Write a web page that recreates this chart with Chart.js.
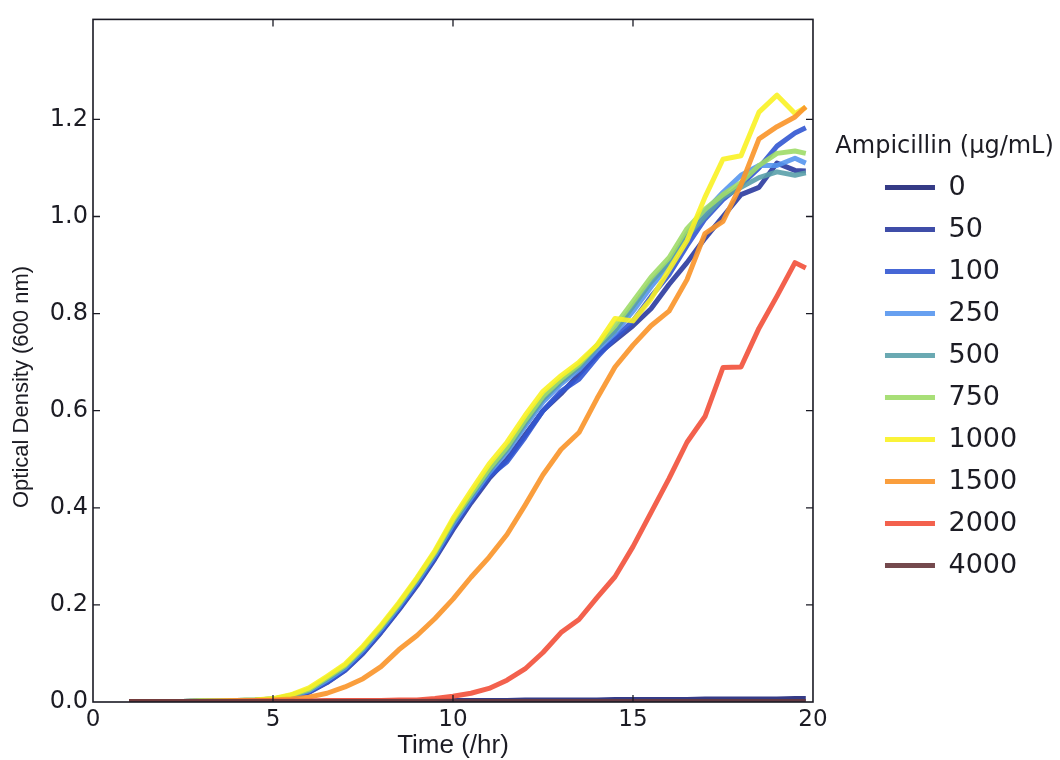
<!DOCTYPE html>
<html>
<head>
<meta charset="utf-8">
<script src="https://cdn.jsdelivr.net/npm/chart.js@4.4.1/dist/chart.umd.min.js"></script>
<style>
html,body{margin:0;padding:0;background:#ffffff;}
#wrap{width:1060px;height:760px;}
</style>
</head>
<body>
<div id="wrap"><canvas id="c" width="1060" height="760" style="width:1060px;height:760px"></canvas></div>
<script>
// ---- data ----
const timeHr = [1,1.5,2,2.5,3,3.5,4,4.5,5,5.5,6,6.5,7,7.5,8,8.5,9,9.5,10,10.5,11,11.5,12,12.5,13,13.5,14,14.5,15,15.5,16,16.5,17,17.5,18,18.5,19,19.5,19.8];
const concentrations = ['0','50','100','250','500','750','1000','1500','2000','4000'];
const legendTitle = 'Ampicillin (μg/mL)';
const od0 = [0.001,0.001,0.001,0.001,0.001,0.001,0.001,0.001,
  0.001,0.001,0.001,0.002,0.002,0.002,0.002,0.002,0.002,0.003,
  0.003,0.003,0.003,0.003,0.004,0.004,0.004,0.004,0.004,0.005,
  0.005,0.005,0.005,0.005,0.006,0.006,0.006,0.006,0.006,0.007,0.007];
const od50 = [0.001,0.001,0.001,0.001,0.002,0.002,0.002,0.003,
  0.005,0.011,0.020,0.040,0.065,0.100,0.143,0.190,0.240,0.295,
  0.355,0.410,0.460,0.500,0.550,0.600,0.635,0.675,0.715,0.745,
  0.775,0.810,0.860,0.905,0.955,1.000,1.045,1.060,1.110,1.095,1.094];
const od100 = [0.001,0.001,0.001,0.001,0.002,0.002,0.002,0.003,
  0.005,0.011,0.021,0.041,0.066,0.102,0.145,0.192,0.243,0.298,
  0.360,0.415,0.465,0.495,0.545,0.600,0.640,0.665,0.710,0.750,
  0.785,0.835,0.880,0.940,0.995,1.035,1.065,1.100,1.145,1.172,1.183];
const od250 = [0.001,0.001,0.001,0.001,0.002,0.002,0.003,0.004,
  0.006,0.012,0.023,0.045,0.070,0.107,0.150,0.197,0.248,0.303,
  0.366,0.420,0.472,0.515,0.568,0.618,0.655,0.685,0.725,0.760,
  0.805,0.855,0.900,0.965,1.010,1.050,1.085,1.105,1.105,1.120,1.110];
const od500 = [0.001,0.001,0.001,0.001,0.002,0.002,0.003,0.004,
  0.006,0.013,0.025,0.048,0.073,0.110,0.153,0.200,0.251,0.306,
  0.370,0.424,0.476,0.520,0.574,0.624,0.660,0.690,0.730,0.765,
  0.815,0.865,0.905,0.960,1.000,1.040,1.060,1.080,1.092,1.085,1.090];
const od750 = [0.001,0.001,0.001,0.001,0.002,0.002,0.003,0.004,
  0.006,0.014,0.026,0.050,0.075,0.112,0.155,0.202,0.254,0.309,
  0.374,0.428,0.480,0.525,0.580,0.630,0.665,0.695,0.735,0.775,
  0.825,0.875,0.915,0.975,1.015,1.045,1.070,1.105,1.130,1.135,1.130];
const od1000 = [0.001,0.001,0.001,0.001,0.002,0.002,0.003,0.004,
  0.007,0.015,0.029,0.053,0.078,0.115,0.158,0.205,0.256,0.312,
  0.378,0.435,0.490,0.535,0.590,0.640,0.672,0.700,0.735,0.790,
  0.785,0.830,0.890,0.950,1.040,1.118,1.125,1.215,1.250,1.212,1.225];
const od1500 = [0.001,0.001,0.001,0.001,0.001,0.002,0.002,0.003,
  0.004,0.006,0.010,0.018,0.031,0.048,0.073,0.108,0.137,0.172,
  0.212,0.257,0.298,0.345,0.405,0.468,0.520,0.555,0.625,0.690,
  0.735,0.775,0.805,0.870,0.965,0.990,1.065,1.160,1.185,1.205,1.226];
const od2000 = [0.001,0.001,0.001,0.001,0.001,0.001,0.002,0.002,
  0.002,0.002,0.002,0.003,0.003,0.003,0.003,0.004,0.004,0.007,
  0.012,0.018,0.028,0.045,0.068,0.102,0.143,0.170,0.215,0.258,
  0.320,0.390,0.460,0.535,0.588,0.689,0.690,0.770,0.836,0.905,0.894];
const od4000 = [0.001,0.001,0.001,0.001,0.001,0.001,0.001,0.001,
  0.001,0.001,0.001,0.001,0.001,0.001,0.001,0.001,0.001,0.001,
  0.001,0.001,0.001,0.001,0.001,0.001,0.001,0.001,0.001,0.001,
  0.001,0.001,0.001,0.001,0.001,0.001,0.001,0.001,0.001,0.001,0.001];
const xTicks = [0,5,10,15,20];
const yTickLabels = ['0.0','0.2','0.4','0.6','0.8','1.0','1.2'];

const seriesValues = [od0,od50,od100,od250,od500,od750,od1000,od1500,od2000,od4000];
const seriesColors = ['rgba(36,42,124,0.92)','rgba(42,58,158,0.9)','rgba(50,86,210,0.9)','rgba(86,150,238,0.9)',
  'rgba(90,160,170,0.9)','rgba(158,220,104,0.9)','rgba(250,242,36,0.9)','rgba(250,150,44,0.92)',
  'rgba(242,84,62,0.92)','rgba(104,58,62,0.92)'];

Chart.defaults.font.family = "'DejaVu Sans', sans-serif";
Chart.defaults.color = '#1c1c24';

const datasets = seriesValues.map((vals, i) => ({
  label: concentrations[i],
  data: vals.map((v, k) => ({x: timeHr[k], y: v})),
  borderColor: seriesColors[i],
  backgroundColor: seriesColors[i],
  borderWidth: 5,
  pointRadius: 0,
  tension: 0,
  borderJoinStyle: 'round',
  fill: false,
  order: seriesValues.length - i
}));

const framePlugin = {
  id: 'frame',
  afterDatasetsDraw(chart) {
    const {ctx, chartArea: a, scales} = chart;
    const x = scales.x, y = scales.y;
    ctx.save();
    ctx.strokeStyle = '#1a1a24';
    ctx.lineWidth = 1.6;
    ctx.strokeRect(a.left, a.top, a.right - a.left, a.bottom - a.top);
    ctx.lineWidth = 1.3;
    const L = 7;
    ctx.beginPath();
    xTicks.forEach(v => {
      const px = x.getPixelForValue(v);
      if (px <= a.left + 1 || px >= a.right - 1) return;
      ctx.moveTo(px, a.bottom); ctx.lineTo(px, a.bottom - L);
      ctx.moveTo(px, a.top); ctx.lineTo(px, a.top + L);
    });
    yTickLabels.forEach(s => {
      const py = y.getPixelForValue(parseFloat(s));
      if (py >= a.bottom - 1 || py <= a.top + 1) return;
      ctx.moveTo(a.left, py); ctx.lineTo(a.left + L, py);
      ctx.moveTo(a.right, py); ctx.lineTo(a.right - L, py);
    });
    ctx.stroke();
    ctx.restore();
  }
};

// legend title drawn without the legend box clipping (it is wider than the legend column)
const legendTitlePlugin = {
  id: 'legendTitleText',
  afterDraw(chart) {
    const lg = chart.legend;
    if (!lg) return;
    const ctx = chart.ctx;
    ctx.save();
    ctx.font = "24px 'DejaVu Sans', sans-serif";
    ctx.fillStyle = '#1c1c24';
    ctx.textAlign = 'center';
    ctx.textBaseline = 'middle';
    ctx.fillText(legendTitle, lg.left + lg.width / 2 - 4, lg.top + 133);
    ctx.restore();
  }
};

new Chart(document.getElementById('c'), {
  type: 'line',
  data: {datasets},
  options: {
    responsive: false,
    animation: false,
    events: [],
    layout: {padding: {top: 14, left: 0, bottom: 0, right: 32.8}},
    scales: {
      x: {
        type: 'linear', min: 0, max: 20,
        grid: {display: false, drawTicks: false},
        border: {display: false},
        ticks: {stepSize: 5, padding: 4, font: {size: 23}, color: '#1c1c24',
          callback: v => xTicks.includes(v) ? String(v) : ''},
        title: {display: true, text: 'Time (/hr)', font: {family: "'Liberation Sans', sans-serif", size: 26, lineHeight: 1}, padding: {top: 0, bottom: 1}, color: '#1c1c24'},
        afterFit: s => { s.height = 58; }
      },
      y: {
        type: 'linear', min: 0, max: 1.406,
        grid: {display: false, drawTicks: false},
        border: {display: false},
        ticks: {stepSize: 0.2, includeBounds: false, padding: 5, font: {size: 24}, color: '#1c1c24',
          callback: v => { const s = v.toFixed(1); return yTickLabels.includes(s) ? s : ''; }},
        afterFit: s => { s.width = 60; }
      },
      y2: {
        type: 'linear', position: 'right', display: true,
        grid: {display: false, drawTicks: false}, border: {display: false},
        ticks: {display: false},
        afterFit: s => { s.width = 57; }
      }
    },
    plugins: {
      tooltip: {enabled: false},
      title: {
        display: true, position: 'left', text: 'Optical Density (600 nm)',
        font: {family: "'Liberation Sans', sans-serif", size: 22, lineHeight: 1, weight: 'normal'},
        padding: {top: 11, bottom: 0}, color: '#1c1c24'
      },
      legend: {
        position: 'right',
        align: 'start',
        maxWidth: 240,
        title: {display: true, text: '', font: {size: 24, lineHeight: 1}, padding: {top: 121, bottom: 0}},
        labels: {
          font: {size: 27},
          padding: 15,
          boxWidth: 50,
          boxHeight: 5,
          color: '#1c1c24',
          sort: (a, b) => a.datasetIndex - b.datasetIndex,
          generateLabels: chart => Chart.defaults.plugins.legend.labels.generateLabels(chart)
            .map(l => Object.assign({}, l, {lineWidth: 0, fillStyle: l.strokeStyle}))
        }
      }
    }
  },
  plugins: [framePlugin, legendTitlePlugin]
});
</script>
</body>
</html>
